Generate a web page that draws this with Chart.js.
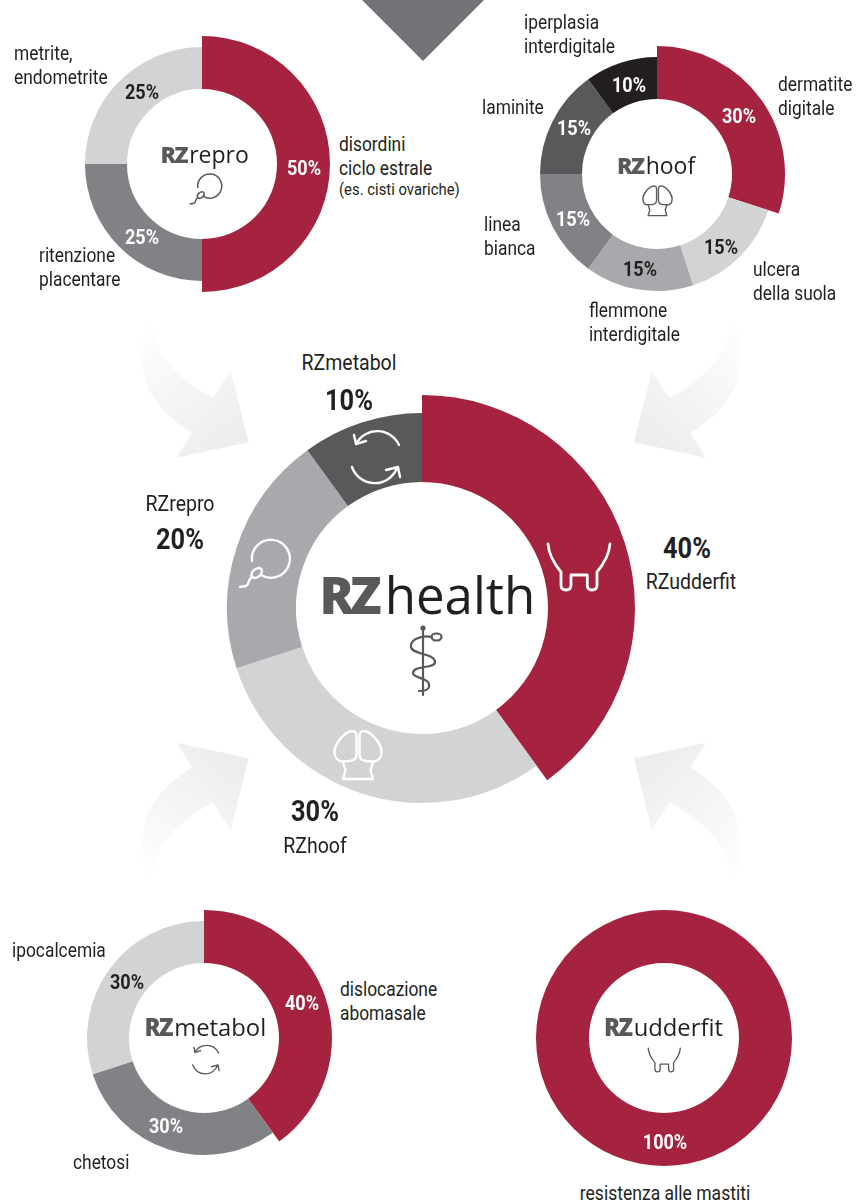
<!DOCTYPE html>
<html lang="it">
<head>
<meta charset="utf-8">
<title>RZhealth</title>
<script src="https://cdn.jsdelivr.net/npm/chart.js@4"></script>
<style>
  html, body { margin: 0; padding: 0; background: #fff; }
  #page { position: relative; width: 867px; height: 1200px; overflow: hidden; font-family: Roboto, sans-serif; color: #231f20; }
  #page canvas { position: absolute; }
  svg.deco { position: absolute; overflow: visible; fill: none; stroke-linecap: round; stroke-linejoin: round; }
  .txt { position: absolute; white-space: nowrap; transform-origin: 0 0; transform: scaleX(.86); }
  .mid { transform: translateX(-50%) scaleX(.86); transform-origin: 50% 0; }
  .logo { position: absolute; white-space: nowrap; font-family: "Open Sans", sans-serif; line-height: 1; }
  .logo b { font-weight: 800; color: #58595b; }
  .logo span { font-weight: 400; color: #231f20; }
</style>
</head>
<body>
<div id="page">
  <svg width="0" height="0" style="position:absolute">
    <defs>
      <linearGradient id="fade" x1="0.15" y1="0" x2="0.75" y2="0.95">
        <stop offset="0" stop-color="#ffffff"/>
        <stop offset="0.25" stop-color="#fafafa"/>
        <stop offset="1" stop-color="#ecedee"/>
      </linearGradient>
      <path id="arrowShape" fill="url(#fade)" d="M20.7 8C12 30 9 60 17 85C28 110 45 122 62 133L46.7 157.7L118.7 142.3L100.7 70.7L82.7 98.3C55 82 28 62 23 30Z"/>
      <symbol id="sperm" viewBox="10 125 60 60">
        <path d="M36 165A19 19 0 1 0 27 151"/>
        <ellipse cx="31.7" cy="163" rx="6" ry="4" transform="rotate(-40 31.7 163)"/>
        <path d="M27 167C22 170 25 174 21 176C18 177 17 176 15 177"/>
      </symbol>
      <symbol id="udder" viewBox="0 0 70 54">
        <path d="M4 4C5 16 12 26 17 32L17 45Q17 50 22 50Q27 50 27 45L27 35L43.3 35L43.3 45Q43.3 50 48 50Q53 50 53 45L53 32C58 26 65 16 66 4"/>
      </symbol>
      <symbol id="hoof" viewBox="0 0 66 66">
        <path d="M27 11C19 12 9.500 24 9.500 32C9.500 38 13 41.500 18 41.500C23 41.500 26 41 28.500 40C30.500 39 31.500 37 31.500 34L31.500 16C31.500 13 30 11 27 11Z"/>
        <path d="M39 11C47 12 56.500 24 56.500 32C56.500 38 53 41.500 48 41.500C43 41.500 40 41 37.500 40C35.500 39 34.500 37 34.500 34L34.500 16C34.500 13 36 11 39 11Z"/>
        <path d="M18 42L20.500 50L18 59L48 59L45.500 50L48 42"/>
      </symbol>
      <symbol id="cycle" viewBox="0 0 56 62">
        <path d="M50 20A24 24 0 0 0 7 19M5 10L7 19L17 16"/>
        <path d="M3 42A24 24 0 0 0 48 43M37 45L49 42L51 52"/>
      </symbol>
      <symbol id="staff" viewBox="0 0 40 74">
        <path d="M16 3L16 70"/>
        <circle cx="16" cy="3" r="1.500" fill="#58595b"/>
        <ellipse cx="29.500" cy="12" rx="5" ry="3.500"/>
        <path d="M25 12C15 10 3 14 4 22C5 30 28 28 28 37C28 44 6 40 6 48C6 54 24 52 22 62C21 66 15 66 12 66"/>
      </symbol>
    </defs>
  </svg>

  <svg class="deco" id="backdrop" width="867" height="1200" style="left:0;top:0">
    <path d="M362 0L423 61L484 0Z" fill="#727376"/>
    <use href="#arrowShape" transform="translate(130 300)"/>
    <use href="#arrowShape" transform="translate(752.500 300) scale(-1 1)"/>
    <use href="#arrowShape" transform="translate(130 900.500) scale(1 -1)"/>
    <use href="#arrowShape" transform="translate(752.500 900.500) scale(-1 1) scale(1 -1)"/>
  </svg>
</div>

<script>
// Data
const healthLabels = ['RZudderfit', 'RZhoof', 'RZrepro', 'RZmetabol'];
const healthValues = [40, 30, 20, 10];
const reproLabels = ['disordini ciclo estrale', 'ritenzione placentare', 'metrite, endometrite'];
const reproValues = [50, 25, 25];
const hoofLabels = ['dermatite digitale', 'ulcera della suola', 'flemmone interdigitale', 'linea bianca', 'laminite', 'iperplasia interdigitale'];
const hoofValues = [30, 15, 15, 15, 15, 10];
const metabolLabels = ['dislocazione abomasale', 'chetosi', 'ipocalcemia'];
const metabolValues = [40, 30, 30];
const udderLabels = ['resistenza alle mastiti'];
const udderValues = [100];

const RED = '#a6233f';
const LIGHT = '#d1d3d4';
const MID = '#a7a9ac';
const GREY = '#808285';
const DARK = '#58595b';
const BLACK = '#231f20';

const page = document.getElementById('page');

// every doughnut has its first slice sticking out past the others
const bigSlice = {
  id: 'bigSlice',
  afterDatasetsUpdate(chart, args, opts) {
    chart.getDatasetMeta(0).data[0].outerRadius = opts.radius;
  }
};

function donut(labels, values, colors, cx, cy, r, big, inner) {
  const canvas = document.createElement('canvas');
  const size = big * 2 + 4;
  canvas.width = size;
  canvas.height = size;
  canvas.style.left = `${cx - size / 2}px`;
  canvas.style.top = `${cy - size / 2}px`;
  page.appendChild(canvas);

  return new Chart(canvas, {
    type: 'doughnut',
    data: {
      labels,
      datasets: [{ data: values, backgroundColor: colors, borderWidth: 0 }]
    },
    options: {
      responsive: false,
      animation: false,
      radius: r,
      cutout: `${inner / r * 100}%`,
      plugins: { legend: { display: false }, tooltip: { enabled: false }, bigSlice: { radius: big } }
    },
    plugins: [bigSlice]
  });
}

donut(healthLabels, healthValues, [RED, LIGHT, MID, DARK], 422, 608, 195, 213, 126);
donut(reproLabels, reproValues, [RED, GREY, LIGHT], 202, 164, 117, 128, 75);
donut(hoofLabels, hoofValues, [RED, LIGHT, MID, GREY, DARK, BLACK], 657, 174, 117, 128, 75);
donut(metabolLabels, metabolValues, [RED, GREY, LIGHT], 204, 1038, 117, 128, 75);
donut(udderLabels, udderValues, [RED], 664, 1038, 128, 128, 75);

// Text helpers
function block(x, y, lines, size) {
  const div = document.createElement('div');
  div.className = 'txt';
  div.style.cssText = `left:${x}px;top:${y - 12}px;font-size:${size || 20.2}px;line-height:24px`;
  div.innerHTML = lines.join('<br>');
  page.appendChild(div);
}

function centered(x, y, text, size, bold, color) {
  const div = document.createElement('div');
  div.className = 'txt mid';
  div.style.cssText = `left:${x}px;top:${y - size}px;font-size:${size}px;line-height:${size * 2}px;font-weight:${bold ? 700 : 400};color:${color || BLACK}`;
  div.textContent = text;
  page.appendChild(div);
}

function logo(x, baseline, name, size, gap, rzSpacing) {
  const div = document.createElement('div');
  div.className = 'logo';
  div.style.cssText = `left:${x}px;top:${baseline - size * 0.888}px;font-size:${size}px`;
  div.innerHTML = `<b style="letter-spacing:${rzSpacing}px;margin-right:${gap}px">RZ</b><span>${name}</span>`;
  page.appendChild(div);
}

function icon(id, x, y, w, h, color, stroke) {
  const svg = document.createElementNS('http://www.w3.org/2000/svg', 'svg');
  svg.setAttribute('class', 'deco');
  svg.setAttribute('width', w);
  svg.setAttribute('height', h);
  svg.style.left = `${x}px`;
  svg.style.top = `${y}px`;
  svg.style.stroke = color;
  svg.style.strokeWidth = stroke;
  const use = document.createElementNS('http://www.w3.org/2000/svg', 'use');
  use.setAttribute('href', `#${id}`);
  use.setAttribute('width', w);
  use.setAttribute('height', h);
  svg.appendChild(use);
  page.appendChild(svg);
}

const pct = v => `${v}%`;

// RZrepro
block(13.5, 53, ['metrite,', 'endometrite']);
block(39, 255, ['ritenzione', 'placentare']);
block(339, 144, ['disordini', 'ciclo estrale']);
block(339, 189, ['(es. cisti ovariche)'], 17.3);
centered(304, 168, pct(reproValues[0]), 21, true, '#fff');
centered(141.5, 237, pct(reproValues[1]), 21, true, '#fff');
centered(141.5, 91.5, pct(reproValues[2]), 21, true);
logo(160.5, 163, 'repro', 23, 2, -1.5);
icon('sperm', 186.5, 171, 38, 38, DARK, 2.4);

// RZhoof
block(524, 22, ['iperplasia', 'interdigitale']);
block(482, 107, ['laminite']);
block(484, 224, ['linea', 'bianca']);
block(589, 310, ['flemmone', 'interdigitale']);
block(753, 269, ['ulcera', 'della suola']);
block(778, 84, ['dermatite', 'digitale']);
centered(739, 116, pct(hoofValues[0]), 21, true, '#fff');
centered(720.5, 247, pct(hoofValues[1]), 21, true);
centered(639.5, 269, pct(hoofValues[2]), 21, true);
centered(572.5, 219, pct(hoofValues[3]), 21, true, '#fff');
centered(574, 128, pct(hoofValues[4]), 21, true, '#fff');
centered(629, 85, pct(hoofValues[5]), 21, true, '#fff');
logo(617, 174, 'hoof', 23, 2, -1.5);
icon('hoof', 637, 179, 41, 41, DARK, 2.2);

// RZhealth
centered(349, 363, healthLabels[3], 22.7);
centered(349, 400, pct(healthValues[3]), 29.5, true);
centered(180, 504, healthLabels[2], 22.7);
centered(180, 539, pct(healthValues[2]), 29.5, true);
centered(687, 548, pct(healthValues[0]), 29.5, true);
centered(691, 582, healthLabels[0], 22.7);
centered(315, 811, pct(healthValues[1]), 29.5, true);
centered(315, 846, healthLabels[1], 22.7);
logo(319.5, 614, 'health', 51, 6.5, -3.5);
icon('staff', 406.5, 625, 40, 74, DARK, 2.2);
icon('udder', 544, 540, 70, 54, '#fff', 2.8);
icon('hoof', 325, 720, 66, 66, '#fff', 2.4);
icon('sperm', 235, 535, 60, 60, '#fff', 2.4);
icon('cycle', 348.5, 425, 56, 62, '#fff', 2.4);

// RZmetabol
block(339.5, 989, ['dislocazione', 'abomasale']);
block(12, 949.5, ['ipocalcemia']);
block(73, 1162, ['chetosi']);
centered(301.5, 1003, pct(metabolValues[0]), 21, true, '#fff');
centered(165.5, 1125.5, pct(metabolValues[1]), 21, true, '#fff');
centered(126.5, 982, pct(metabolValues[2]), 21, true);
logo(144.5, 1037, 'metabol', 23.8, 2, -1.5);
icon('cycle', 191, 1042, 31, 34, DARK, 2.6);

// RZudderfit
centered(664.5, 1193, udderLabels[0], 20.4);
centered(665, 1141.5, pct(udderValues[0]), 21, true, '#fff');
logo(604, 1037, 'udderfit', 23.8, 2, -1.5);
icon('udder', 646, 1046, 36.5, 28, DARK, 2.5);
</script>
</body>
</html>
